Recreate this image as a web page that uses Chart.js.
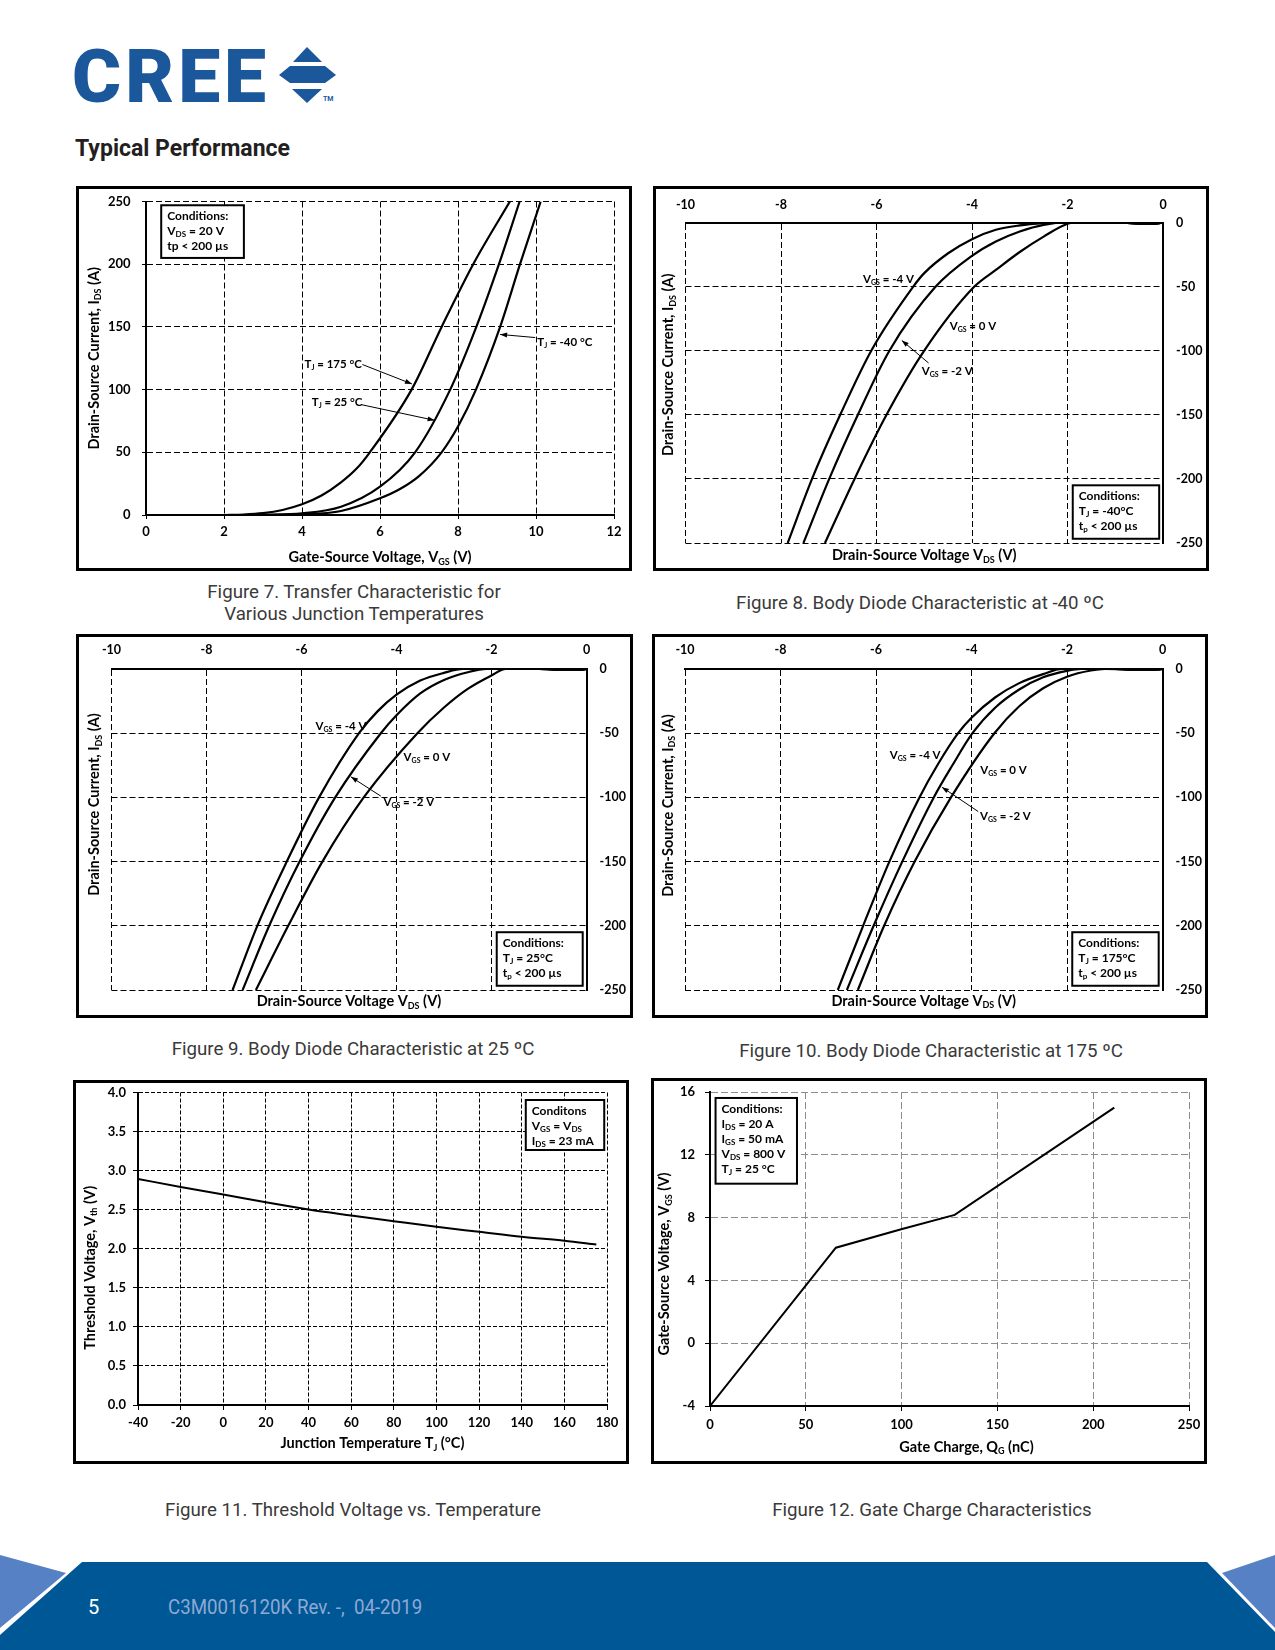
<!DOCTYPE html>
<html>
<head>
<meta charset="utf-8">
<script src="https://cdn.jsdelivr.net/npm/chart.js@4.4.1/dist/chart.umd.min.js"></script>
<style>
body { margin: 0; background: #fff; }
#page { position: relative; width: 1275px; height: 1650px; overflow: hidden; font-family: Roboto, sans-serif; }
.frame { position: absolute; border: 3px solid #000; box-sizing: border-box; background: #fff; }
.frame canvas { position: absolute; left: 0; top: 0; }
.cap { position: absolute; width: 600px; text-align: center; font: 400 18.7px Roboto; color: #3a3a3a; line-height: 22px; }
</style>
</head>
<body>
<div id="page">
  <div style="position:absolute;left:72px;top:39px;font:900 75px Roboto;line-height:1;color:#1b579b;letter-spacing:4px">CREE</div>
  <svg style="position:absolute;left:276px;top:44px" width="66" height="64">
    <polygon points="31,3 17,18 46,18" fill="#1b579b"/>
    <polygon points="3,31 14,22 49,22 60,31 49,39 14,39" fill="#1b579b"/>
    <polygon points="16,45 46,45 31,59" fill="#1b579b"/>
    <text x="47" y="57" font-family="Roboto" font-weight="700" font-size="7" fill="#1b579b">TM</text>
  </svg>
  <div style="position:absolute;left:75px;top:137px;font:700 23px Roboto;line-height:1;color:#231f20">Typical Performance</div>

  <div class="frame" style="left:76px;top:186px;width:556px;height:385px"><canvas id="fig7" width="550" height="379"></canvas></div>
  <div class="frame" style="left:653px;top:186px;width:556px;height:385px"><canvas id="fig8" width="550" height="379"></canvas></div>
  <div class="frame" style="left:76px;top:634px;width:557px;height:384px"><canvas id="fig9" width="551" height="378"></canvas></div>
  <div class="frame" style="left:652px;top:634px;width:556px;height:384px"><canvas id="fig10" width="550" height="378"></canvas></div>
  <div class="frame" style="left:73px;top:1080px;width:556px;height:384px"><canvas id="fig11" width="550" height="378"></canvas></div>
  <div class="frame" style="left:651px;top:1078px;width:556px;height:386px"><canvas id="fig12" width="550" height="380"></canvas></div>

  <div class="cap" style="left:54px;top:581px">Figure 7. Transfer Characteristic for<br>Various Junction Temperatures</div>
  <div class="cap" style="left:620px;top:592px">Figure 8. Body Diode Characteristic at -40 ºC</div>
  <div class="cap" style="left:53px;top:1038px">Figure 9. Body Diode Characteristic at 25 ºC</div>
  <div class="cap" style="left:631px;top:1040px">Figure 10. Body Diode Characteristic at 175 ºC</div>
  <div class="cap" style="left:53px;top:1499px">Figure 11. Threshold Voltage vs. Temperature</div>
  <div class="cap" style="left:632px;top:1499px">Figure 12. Gate Charge Characteristics</div>

  <svg style="position:absolute;left:0;top:1540px" width="1275" height="110">
    <polygon points="0,15 66,33 0,88" fill="#5681c4"/>
    <polygon points="82,22 1207,22 1275,92 1275,110 0,110 0,95" fill="#005796"/>
    <polygon points="1222,33 1275,15 1275,88" fill="#5681c4"/>
  </svg>
  <div style="position:absolute;left:88px;top:1597px;font:400 20px Roboto;line-height:1;color:#fff">5</div>
  <div style="position:absolute;left:168px;top:1597px;font:400 21px Roboto;line-height:1;color:#8fa9d3;transform:scaleX(0.89);transform-origin:left top;white-space:nowrap">C3M0016120K Rev. -,&nbsp; 04-2019</div>
</div>

<script>
// Figure 7 - transfer characteristic, [VGS (V), IDS (A)]
const fig7Tj175 = [[2,0],[2.5,0.4],[3,1.5],[3.5,4],[4,8.5],[4.5,15.5],[5,26],[5.4,37],[5.74,50],[6.81,100],[7.58,150],[8.39,200],[9.33,250]];
const fig7Tj25 = [[2.5,0],[3,0.2],[4,1.3],[5,6.6],[6,22.6],[6.9,50],[7.8,100],[8.47,150],[9.05,200],[9.58,250]];
const fig7TjM40 = [[3,0],[4,0.5],[5,3.2],[6,13.3],[6.5,20.5],[7,31],[7.58,50],[8,70.5],[8.46,100],[9.08,150],[9.59,200],[10.12,250]];

// Figure 8 - body diode at -40 C, [VDS (V), IDS (A)]
const fig8Vgs4 = [[-7.86,-250],[-7.35,-200],[-6.76,-150],[-6.11,-100],[-5.23,-50],[-5,-39.5],[-4.5,-24],[-4,-13],[-3.5,-5.7],[-3,-2.3],[-2.5,-0.5],[-2.2,0],[-1,0],[-0.5,-0.8],[-0.15,-0.8],[0,0]];
const fig8Vgs2 = [[-7.53,-250],[-6.99,-200],[-6.39,-150],[-5.73,-100],[-4.76,-50],[-4,-26],[-3.5,-14.8],[-3,-7],[-2.5,-1.8],[-2,0],[-1,0],[-0.5,-0.8],[-0.15,-0.8],[0,0]];
const fig8Vgs0 = [[-7.08,-250],[-6.46,-200],[-5.79,-150],[-5.0,-100],[-3.95,-50],[-3.5,-37],[-3,-23],[-2.5,-11],[-2,-1],[-1.8,0],[-1,0],[-0.5,-0.8],[-0.15,-0.8],[0,0]];

// Figure 9 - body diode at 25 C
const fig9Vgs4 = [[-7.45,-250],[-6.93,-200],[-6.31,-150],[-5.63,-100],[-4.79,-50],[-4.4,-33],[-4,-20],[-3.5,-9],[-3,-3],[-2.6,0],[-1,0],[-0.5,-0.6],[-0.15,-0.6],[0,0]];
const fig9Vgs2 = [[-7.24,-250],[-6.68,-200],[-6.04,-150],[-5.29,-100],[-4.33,-50],[-4,-36],[-3.5,-19],[-3,-8.5],[-2.5,-2.5],[-2.1,0],[-1,0],[-0.5,-0.6],[-0.15,-0.6],[0,0]];
const fig9Vgs0 = [[-6.96,-250],[-6.28,-200],[-5.56,-150],[-4.69,-100],[-3.56,-50],[-3,-30],[-2.5,-15.5],[-2,-5],[-1.7,0],[-1,0],[-0.5,-0.6],[-0.15,-0.6],[0,0]];

// Figure 10 - body diode at 175 C
const fig10Vgs4 = [[-6.8,-250],[-6.27,-200],[-5.72,-150],[-5.09,-100],[-4.7,-74],[-4.28,-50],[-4,-38],[-3.5,-22],[-3,-11],[-2.5,-4],[-2.1,0],[-1,0],[-0.6,-0.5],[-0.2,-0.6],[0,0]];
const fig10Vgs2 = [[-6.61,-250],[-6.05,-200],[-5.45,-150],[-4.79,-100],[-4.4,-75],[-3.98,-50],[-3.5,-30],[-3,-16],[-2.5,-6.5],[-2,-1.5],[-1.7,0],[-1,0],[-0.6,-0.5],[-0.2,-0.6],[0,0]];
const fig10Vgs0 = [[-6.38,-250],[-5.83,-200],[-5.19,-150],[-4.43,-100],[-3.52,-50],[-3,-29],[-2.5,-15],[-2,-6],[-1.5,-1.2],[-1.2,0],[-0.6,-0.5],[-0.2,-0.6],[0,0]];

// Figure 11 - threshold voltage vs junction temperature
const fig11Temp = [-40, -20, 0, 20, 40, 60, 80, 100, 120, 140, 160, 175];
const fig11Vth = [2.894, 2.79, 2.694, 2.596, 2.502, 2.426, 2.353, 2.281, 2.217, 2.153, 2.102, 2.055];

// Figure 12 - gate charge
const fig12Qg = [0, 65.7, 99.8, 127.7, 211];
const fig12Vgs = [-4, 6.08, 7.26, 8.17, 15.0];

const FONT = 'Lato';
const TICK_SIZE = 13;
const TITLE_SIZE = 14.5;
const NOTE_SIZE = 11.5;
const BOX_SIZE = 12;
Chart.defaults.font.family = FONT;
Chart.defaults.font.weight = 'bold';
Chart.defaults.font.size = TICK_SIZE;
Chart.defaults.color = '#000';
Chart.defaults.animation = false;

function pts(arr) {
  return arr.map(p => ({ x: p[0], y: p[1] }));
}

function curve(data, width) {
  return {
    data: data,
    borderColor: '#000',
    borderWidth: width || 2.2,
    pointRadius: 0,
    fill: false,
    cubicInterpolationMode: 'monotone'
  };
}

// split "V_{GS} = 0 V" into normal / subscript runs
function richParts(str) {
  const out = [];
  str.split(/(_\{[^}]*\})/).forEach(s => {
    if (!s) return;
    if (s.startsWith('_{')) out.push({ t: s.slice(2, -1), sub: true });
    else out.push({ t: s, sub: false });
  });
  return out;
}

function drawRich(ctx, str, x, y, size, align) {
  const parts = richParts(str);
  const big = 'bold ' + size + 'px ' + FONT;
  const small = 'bold ' + Math.round(size * 0.64) + 'px ' + FONT;
  let w = 0;
  parts.forEach(p => {
    ctx.font = p.sub ? small : big;
    p.w = ctx.measureText(p.t).width;
    w += p.w;
  });
  let cx = x;
  if (align === 'center' || !align) cx = x - w / 2;
  else if (align === 'right') cx = x - w;
  ctx.textAlign = 'left';
  ctx.textBaseline = 'middle';
  parts.forEach(p => {
    ctx.font = p.sub ? small : big;
    ctx.fillText(p.t, cx, p.sub ? y + size * 0.3 : y);
    cx += p.w;
  });
}

function arrow(ctx, x1, y1, x2, y2) {
  ctx.lineWidth = 1;
  ctx.beginPath();
  ctx.moveTo(x1, y1);
  ctx.lineTo(x2, y2);
  ctx.stroke();
  const ang = Math.atan2(y2 - y1, x2 - x1), L = 7, W = 2.5;
  ctx.beginPath();
  ctx.moveTo(x2, y2);
  ctx.lineTo(x2 - L * Math.cos(ang) + W * Math.sin(ang), y2 - L * Math.sin(ang) - W * Math.cos(ang));
  ctx.lineTo(x2 - L * Math.cos(ang) - W * Math.sin(ang), y2 - L * Math.sin(ang) + W * Math.cos(ang));
  ctx.closePath();
  ctx.fill();
}

// axis titles, conditions box, curve labels and arrows
function notes(cfg) {
  return {
    id: 'notes',
    afterDraw(chart) {
      const ctx = chart.ctx, a = chart.chartArea;
      const px = v => chart.scales.x.getPixelForValue(v);
      const py = v => chart.scales.y.getPixelForValue(v);
      const t = cfg.titles;
      ctx.save();
      ctx.fillStyle = '#000';
      ctx.strokeStyle = '#000';
      drawRich(ctx, t.x, (a.left + a.right) / 2 + (t.xdx || 0), a.bottom + t.xdy, TITLE_SIZE, 'center');
      ctx.save();
      ctx.translate(a.left + t.ydx, (a.top + a.bottom) / 2 + (t.ydy || 0));
      ctx.rotate(-Math.PI / 2);
      drawRich(ctx, t.y, 0, 0, TITLE_SIZE, 'center');
      ctx.restore();

      if (cfg.box) {
        const b = cfg.box;
        const x1 = px(b.x1), x2 = px(b.x2);
        const y1 = Math.min(py(b.y1), py(b.y2)), y2 = Math.max(py(b.y1), py(b.y2));
        ctx.fillStyle = '#fff';
        ctx.fillRect(x1, y1, x2 - x1, y2 - y1);
        ctx.lineWidth = 2;
        ctx.strokeRect(x1, y1, x2 - x1, y2 - y1);
        ctx.fillStyle = '#000';
        b.lines.forEach((ln, i) => drawRich(ctx, ln, x1 + 6, y1 + 11 + i * 15, BOX_SIZE, 'left'));
      }
      (cfg.labels || []).forEach(l => drawRich(ctx, l.text, px(l.x), py(l.y), NOTE_SIZE, 'center'));
      (cfg.arrows || []).forEach(r => arrow(ctx, px(r.x1), py(r.y1), px(r.x2), py(r.y2)));
      ctx.restore();
    }
  };
}

function axis(o) {
  const ticks = {
    stepSize: o.step,
    padding: o.pad,
    color: '#000',
    font: { family: FONT, size: o.font || TICK_SIZE, weight: 'bold' },
    maxRotation: 0,
    autoSkip: false
  };
  if (o.fmt) ticks.callback = o.fmt;
  return {
    type: 'linear',
    position: o.position,
    min: o.min,
    max: o.max,
    afterFit: s => {
      // fixed axis band, no extra padding from the end labels
      if (s.isHorizontal()) s.height = o.size;
      else s.width = o.size;
      s.paddingTop = s.paddingBottom = s.paddingLeft = s.paddingRight = 0;
    },
    ticks: ticks,
    grid: {
      color: o.gridColor || '#000',
      lineWidth: 1,
      drawTicks: !!o.tick,
      tickLength: o.tick || 0,
      tickColor: '#000',
      tickWidth: 1
    },
    border: { display: true, color: '#000', width: 2, dash: o.dash }
  };
}

function makeChart(id, datasets, scales, padding, cfg) {
  return new Chart(document.getElementById(id), {
    type: 'line',
    data: { datasets: datasets },
    options: {
      responsive: false,
      animation: false,
      layout: { padding: padding },
      plugins: { legend: { display: false }, tooltip: { enabled: false } },
      scales: scales
    },
    plugins: [notes(cfg)]
  });
}

// Figure 7
makeChart('fig7',
  [curve(pts(fig7Tj175)), curve(pts(fig7Tj25)), curve(pts(fig7TjM40))],
  {
    x: axis({ position: 'bottom', min: 0, max: 12, step: 2, size: 53, tick: 4, pad: 5.5, dash: [6, 3] }),
    y: axis({ position: 'left', min: 0, max: 250, step: 50, size: 67, tick: 4, pad: 11.5, dash: [6, 3] })
  },
  { top: 12.5, right: 15, left: 0, bottom: 0 },
  {
    titles: { x: 'Gate-Source Voltage, V_{GS} (V)', xdy: 42.6, y: 'Drain-Source Current, I_{DS} (A)', ydx: -52 },
    box: { x1: 0.39, x2: 2.51, y1: 247, y2: 205, lines: ['Conditions:', 'V_{DS} = 20 V', 'tp < 200 µs'] },
    labels: [
      { text: 'T_{J} = 175 °C', x: 4.8, y: 120.5 },
      { text: 'T_{J} = 25 °C', x: 4.9, y: 89.5 },
      { text: 'T_{J} = -40 °C', x: 10.74, y: 138 }
    ],
    arrows: [
      { x1: 5.55, y1: 120, x2: 6.82, y2: 104.5 },
      { x1: 5.52, y1: 88, x2: 7.4, y2: 75.5 },
      { x1: 9.98, y1: 141.5, x2: 9.08, y2: 144 }
    ]
  });

// Figures 8-10 share one layout
function diodeChart(id, curves, labels, arr, tj, pad) {
  return makeChart(id,
    curves.map(c => curve(pts(c))),
    {
      x: axis({ position: 'top', min: -10, max: 0, step: 2, size: pad.top, pad: pad.xPad, dash: [6, 3], font: 12.5 }),
      y: axis({ position: 'right', min: -250, max: 0, step: 50, size: pad.right, pad: pad.yPad, dash: [6, 3], font: 12.5 })
    },
    { left: pad.left, bottom: 25, top: 0, right: 0 },
    {
      titles: { x: 'Drain-Source Voltage V_{DS} (V)', xdy: pad.xdy, y: 'Drain-Source Current, I_{DS} (A)', ydx: -17, ydy: pad.ydy },
      box: { x1: -1.89, x2: -0.08, y1: -205, y2: -246.7, lines: ['Conditions:', 'T_{J} = ' + tj, 't_{p} < 200 µs'] },
      labels: [
        { text: 'V_{GS} = -4 V', x: labels[0][0], y: labels[0][1] },
        { text: 'V_{GS} = 0 V', x: labels[1][0], y: labels[1][1] },
        { text: 'V_{GS} = -2 V', x: labels[2][0], y: labels[2][1] }
      ],
      arrows: [{ x1: arr[0], y1: arr[1], x2: arr[2], y2: arr[3] }]
    });
}

diodeChart('fig8', [fig8Vgs4, fig8Vgs2, fig8Vgs0],
  [[-5.75, -44.2], [-3.98, -81], [-4.52, -116]], [-4.91, -109.6, -5.47, -92], '-40°C',
  { top: 33.5, right: 43, left: 29.5, xPad: 10.5, yPad: 13, xdy: 12.6, ydy: -18 });

diodeChart('fig9', [fig9Vgs4, fig9Vgs2, fig9Vgs0],
  [[-5.17, -44.6], [-3.36, -69], [-3.74, -104]], [-4.33, -99, -4.96, -84], '25°C',
  { top: 32, right: 43.5, left: 32.5, xPad: 11.5, yPad: 13, xdy: 11.5, ydy: -25 });

diodeChart('fig10', [fig10Vgs4, fig10Vgs2, fig10Vgs0],
  [[-5.18, -67], [-3.33, -79], [-3.29, -115]], [-3.86, -111, -4.62, -92], '175°C',
  { top: 32, right: 42.5, left: 30, xPad: 11.5, yPad: 13, xdy: 11, ydy: -24 });

// Figure 11
makeChart('fig11',
  [curve(fig11Temp.map((t, i) => ({ x: t, y: fig11Vth[i] })), 2)],
  {
    x: axis({ position: 'bottom', min: -40, max: 180, step: 20, size: 56, tick: 5, pad: 5.5, dash: [4, 2] }),
    y: axis({ position: 'left', min: 0, max: 4, step: 0.5, size: 62, tick: 5, pad: 7, dash: [4, 2], fmt: v => v.toFixed(1) })
  },
  { top: 9.5, right: 19, left: 0, bottom: 0 },
  {
    titles: { x: 'Junction Temperature T_{J} (°C)', xdy: 38.3, y: 'Threshold Voltage, V_{th} (V)', ydx: -48, ydy: 19 },
    box: { x1: 141.9, x2: 178.7, y1: 3.904, y2: 3.264, lines: ['Conditons', 'V_{GS} = V_{DS}', 'I_{DS} = 23 mA'] }
  });

// Figure 12
const fig12Line = curve(fig12Qg.map((q, i) => ({ x: q, y: fig12Vgs[i] })), 2);
fig12Line.cubicInterpolationMode = 'default';
fig12Line.tension = 0;
makeChart('fig12',
  [fig12Line],
  {
    x: axis({ position: 'bottom', min: 0, max: 250, step: 50, size: 55, tick: 5, pad: 6.5, dash: [7, 3], gridColor: '#8c8c8c' }),
    y: axis({ position: 'left', min: -4, max: 16, step: 4, size: 56, tick: 5, pad: 10, dash: [7, 3], gridColor: '#8c8c8c' })
  },
  { top: 11, right: 15, left: 0, bottom: 0 },
  {
    titles: { x: 'Gate Charge, Q_{G} (nC)', xdy: 41, xdx: 17, y: 'Gate-Source Voltage, V_{GS} (V)', ydx: -45.5, ydy: 15 },
    box: { x1: 2.9, x2: 45.4, y1: 15.62, y2: 10.16, lines: ['Conditions:', 'I_{DS} = 20 A', 'I_{GS} = 50 mA', 'V_{DS} = 800 V', 'T_{J} = 25 °C'] }
  });
</script>
</body>
</html>
